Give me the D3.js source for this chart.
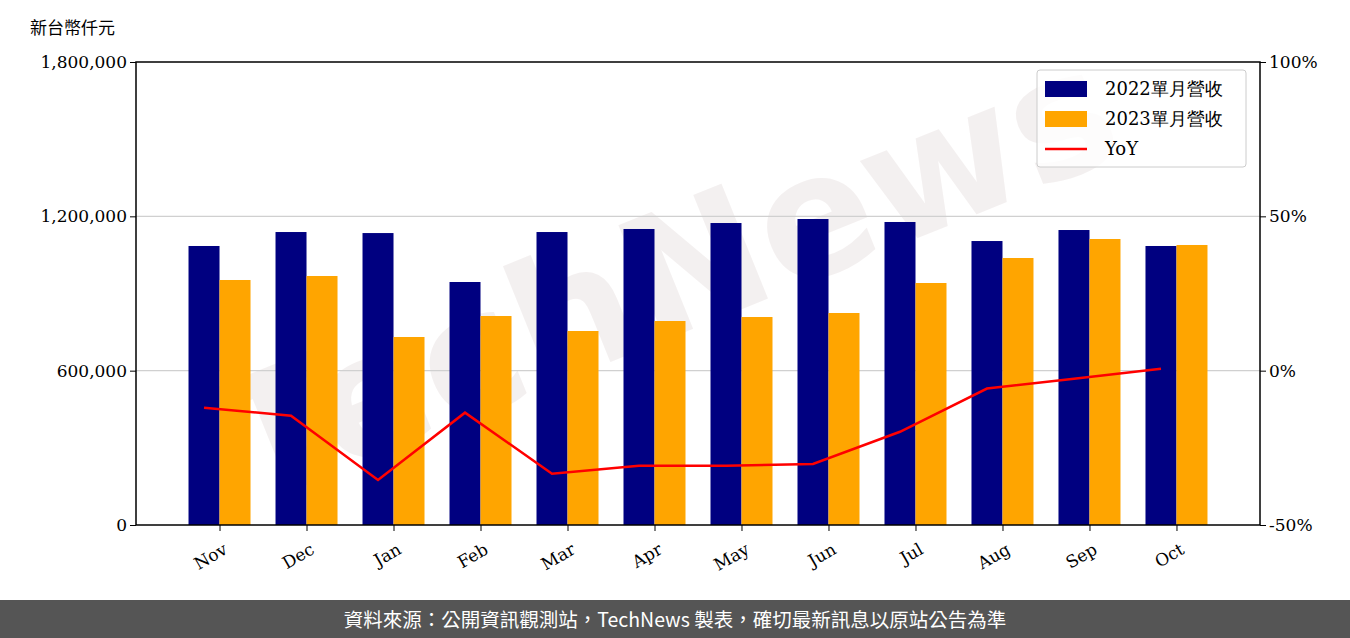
<!DOCTYPE html>
<html><head><meta charset="utf-8">
<script src="https://cdn.jsdelivr.net/npm/d3@7"></script>
<style>body{margin:0;background:#fff}svg{display:block}</style>
</head><body><svg id="c" width="1350" height="638"></svg>
<script>
// chart data
var months = ["Nov","Dec","Jan","Feb","Mar","Apr","May","Jun","Jul","Aug","Sep","Oct"];
var rev2022 = [1084700,1139000,1135000,944700,1139000,1150800,1174000,1189600,1178000,1104000,1146800,1084700];
var rev2023 = [952500,968000,730900,812500,754200,793100,808600,824200,940800,1038000,1111900,1088600];
var yoy = [-12,-14.6,-35.4,-13.6,-33.4,-30.8,-30.8,-30.2,-19.8,-5.8,-2.6,0.6];
var leftTicks = [0,600000,1200000,1800000];
var rightTicks = [-50,0,50,100];

var svg = d3.select("#c");
var L = 136, R = 1260, T = 62, B = 525;
var serif = "DejaVu Serif, serif";
var cjk = "Noto Sans CJK TC, sans-serif";

var x = d3.scalePoint().domain(months).range([L, R]).padding(0.96);
var y = d3.scaleLinear().domain([0,1800000]).range([B, T]);
var y2 = d3.scaleLinear().domain([-50,100]).range([B, T]);
var bw = 31;

// watermark
svg.append("text").attr("transform","translate(690,330) rotate(-22)")
  .attr("text-anchor","middle").attr("font-family","DejaVu Sans, sans-serif")
  .attr("font-weight","bold").attr("font-size",170)
  .attr("fill","#ebe4e4").attr("opacity",0.55).text("TechNews");

// grid
svg.append("g").selectAll("line").data([600000,1200000]).enter().append("line")
  .attr("x1",L).attr("x2",R).attr("y1",d=>y(d)).attr("y2",d=>y(d))
  .attr("stroke","#d0d0d0").attr("stroke-width",1.2);

svg.append("g").selectAll("rect").data(rev2022).enter().append("rect")
  .attr("x",(d,i)=>x(months[i])-bw).attr("width",bw)
  .attr("y",d=>y(d)).attr("height",d=>B-y(d)).attr("fill","#000080");
svg.append("g").selectAll("rect").data(rev2023).enter().append("rect")
  .attr("x",(d,i)=>x(months[i])).attr("width",bw)
  .attr("y",d=>y(d)).attr("height",d=>B-y(d)).attr("fill","#ffa500");

// YoY line runs through the middle of the 2022 bars
svg.append("path").datum(yoy)
  .attr("d", d3.line().x((d,i)=>x(months[i])-bw/2).y(d=>y2(d)))
  .attr("fill","none").attr("stroke","#ff0000").attr("stroke-width",2.5);

// frame
svg.append("rect").attr("x",L).attr("y",T).attr("width",R-L).attr("height",B-T)
  .attr("fill","none").attr("stroke","#000").attr("stroke-width",1.5);

var ax = svg.append("g").attr("transform","translate("+L+",0)")
  .call(d3.axisLeft(y).tickValues(leftTicks).tickFormat(d3.format(",")).tickSize(6));
var ax2 = svg.append("g").attr("transform","translate("+R+",0)")
  .call(d3.axisRight(y2).tickValues(rightTicks).tickFormat(d=>d+"%").tickSize(6));
var axb = svg.append("g").attr("transform","translate(0,"+B+")")
  .call(d3.axisBottom(x).tickSize(6));
[ax,ax2,axb].forEach(function(g){
  g.select(".domain").remove();
  g.selectAll("text").attr("font-family",serif).attr("font-size",17).attr("fill","#000");
});
axb.selectAll("text").attr("text-anchor","end").attr("dy",0)
  .attr("transform","translate(4,20) rotate(-30)");

svg.append("text").attr("x",30).attr("y",34).attr("font-family",cjk).attr("font-size",17).text("新台幣仟元");

// legend
var lg = svg.append("g").attr("transform","translate(1037,70)");
lg.append("rect").attr("width",209).attr("height",97).attr("rx",3)
  .attr("fill","#fff").attr("fill-opacity",0.8).attr("stroke","#ccc");
var items = [["2022單月營收","#000080","bar"],["2023單月營收","#ffa500","bar"],["YoY","#ff0000","line"]];
items.forEach(function(it,i){
  var cy = 19 + i*30;
  if (it[2]=="bar") lg.append("rect").attr("x",8).attr("y",cy-8).attr("width",42).attr("height",16).attr("fill",it[1]);
  else lg.append("line").attr("x1",8).attr("x2",50).attr("y1",cy).attr("y2",cy).attr("stroke",it[1]).attr("stroke-width",2.5);
  lg.append("text").attr("x",68).attr("y",cy+6).attr("font-family",serif).attr("font-size",18).text(it[0]);
});

// footer
svg.append("rect").attr("x",0).attr("y",600).attr("width",1350).attr("height",38).attr("fill","#555");
svg.append("text").attr("x",675).attr("y",627).attr("text-anchor","middle").attr("fill","#fff")
  .attr("font-family",cjk).attr("font-size",19.5).text("資料來源：公開資訊觀測站，TechNews 製表，確切最新訊息以原站公告為準");
</script></body></html>
